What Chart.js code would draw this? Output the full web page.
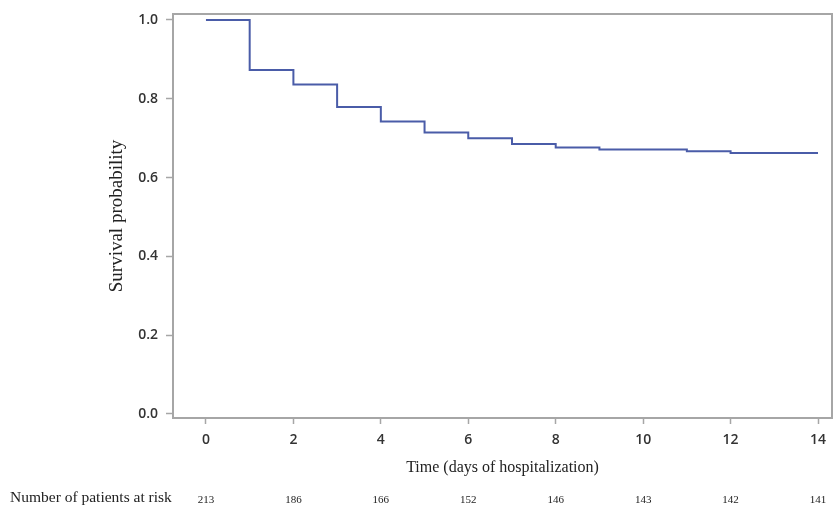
<!DOCTYPE html>
<html>
<head>
<meta charset="utf-8">
<script src="https://cdn.jsdelivr.net/npm/chart.js@4"></script>
<style>
  html, body { margin: 0; padding: 0; background: #fff; }
  #wrap { width: 835px; height: 511px; }
</style>
</head>
<body>
<div id="wrap"><canvas id="km"></canvas></div>
<script>
// KM step data (days, survival)
const days     = [0, 1, 2, 3, 4, 5, 6, 7, 8, 9, 11, 12, 14];
const survival = [1.0, 0.873, 0.836, 0.779, 0.742, 0.714, 0.700, 0.685, 0.676, 0.671, 0.667, 0.662, 0.662];

// tick labels
const xTicks = [0, 2, 4, 6, 8, 10, 12, 14];
const yTicks = [0.0, 0.2, 0.4, 0.6, 0.8, 1.0];

// at-risk table
const riskDays  = [0, 2, 4, 6, 8, 10, 12, 14];
const riskCount = [213, 186, 166, 152, 146, 143, 142, 141];

const FRAME = '#a6a6a6';
const SANS = '"Open Sans", "Noto Sans", sans-serif';
const SERIF = '"Liberation Serif", "DejaVu Serif", serif';

// frame box + at-risk row
const extras = {
  id: 'extras',
  afterDraw(chart) {
    const { ctx, chartArea: a, scales } = chart;
    ctx.save();
    ctx.strokeStyle = FRAME;
    ctx.lineWidth = 2;
    ctx.strokeRect(a.left, a.top, a.right - a.left, a.bottom - a.top);

    ctx.fillStyle = '#222';
    ctx.textBaseline = 'middle';
    ctx.font = '15.5px ' + SERIF;
    ctx.textAlign = 'left';
    ctx.fillText('Number of patients at risk', 10, 498);
    ctx.font = '11px ' + SERIF;
    ctx.textAlign = 'center';
    riskDays.forEach((d, i) => {
      ctx.fillText(String(riskCount[i]), scales.x.getPixelForValue(d), 500);
    });
    ctx.restore();
  }
};

new Chart(document.getElementById('km'), {
  type: 'line',
  data: {
    datasets: [{
      data: days.map((d, i) => ({ x: d, y: survival[i] })),
      borderColor: '#4a5ca8',
      borderWidth: 2,
      pointRadius: 0,
      stepped: 'before',
      fill: false
    }]
  },
  options: {
    responsive: true,
    maintainAspectRatio: false,
    animation: false,
    layout: { padding: { top: 14, right: 3, left: 106, bottom: 0 } },
    plugins: { legend: { display: false }, tooltip: { enabled: false } },
    scales: {
      x: {
        type: 'linear',
        min: -0.754,
        max: 14.32,
        afterBuildTicks: s => { s.ticks = xTicks.map(v => ({ value: v })); },
        afterFit: s => { s.height = 93; s.paddingLeft = 0; s.paddingRight = 0; },
        grid: { drawOnChartArea: false, tickLength: 6, tickColor: FRAME, tickWidth: 1.5 },
        border: { color: FRAME, width: 2 },
        ticks: { color: '#333', font: { family: SANS, size: 14, weight: '600' }, padding: 8, maxRotation: 0 },
        title: {
          display: true,
          text: 'Time (days of hospitalization)',
          color: '#222',
          font: { family: SERIF, size: 16 },
          padding: { top: 4, bottom: 34 }
        }
      },
      y: {
        min: -0.0102,
        max: 1.015,
        afterBuildTicks: s => { s.ticks = yTicks.map(v => ({ value: v })); },
        afterFit: s => { s.width = 67; s.paddingTop = 0; s.paddingBottom = 0; },
        grid: { drawOnChartArea: false, tickLength: 7, tickColor: FRAME, tickWidth: 1.5 },
        border: { color: FRAME, width: 2 },
        ticks: {
          color: '#333',
          font: { family: SANS, size: 14, weight: '600' },
          padding: 8,
          callback: v => v.toFixed(1)
        },
        title: {
          display: true,
          text: 'Survival probability',
          color: '#222',
          font: { family: SERIF, size: 19 },
          padding: { top: 0, bottom: 0 }
        }
      }
    }
  },
  plugins: [extras]
});
</script>
</body>
</html>
